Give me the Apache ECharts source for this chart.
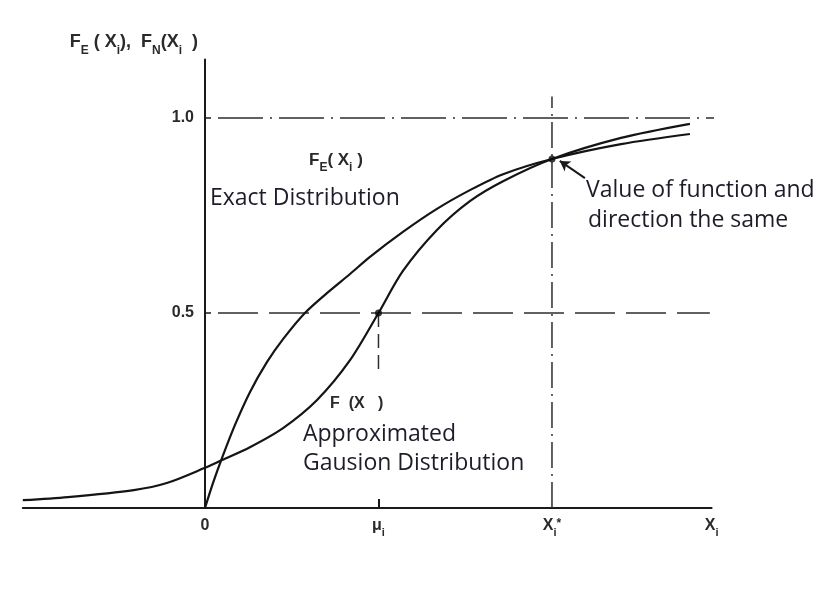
<!DOCTYPE html>
<html>
<head>
<meta charset="utf-8">
<script src="https://cdn.jsdelivr.net/npm/echarts@6/dist/echarts.min.js"></script>
<style>
  html, body { margin: 0; padding: 0; background: #fff; }
  #chart { width: 831px; height: 594px; }
</style>
</head>
<body>
<div id="chart"></div>
<script>
// Exact distribution F_E(X_i): sample points along the curve
const exactX = [0, 0.046, 0.098, 0.173, 0.259, 0.357, 0.45, 0.576, 0.703, 0.836, 0.951, 1.141, 1.337, 1.527, 1.718, 2.0, 2.398, 2.795];
const exactY = [0, 0.064, 0.128, 0.213, 0.297, 0.374, 0.433, 0.5, 0.551, 0.6, 0.644, 0.708, 0.767, 0.815, 0.856, 0.895, 0.933, 0.959];

// Approximated Gaussian distribution F(X)
const gaussX = [-1.05, -0.79, -0.41, -0.22, 0, 0.098, 0.259, 0.45, 0.646, 0.836, 1.0, 1.141, 1.337, 1.527, 1.718, 2.0, 2.398, 2.795];
const gaussY = [0.02, 0.028, 0.046, 0.064, 0.103, 0.123, 0.156, 0.205, 0.277, 0.379, 0.5, 0.608, 0.713, 0.787, 0.838, 0.895, 0.949, 0.985];

// Key abscissae and levels
const muX = 1;          // mean mu_i
const starX = 2;        // design point x_i*
const starY = 0.895;    // common value at x_i*
const levelHalf = 0.5;
const levelOne = 1.0;

// Axis tick values and their labels
const xTickValues = [0, 1, 2, 2.92];
const xTickLabels = ['{b|0}', '{b|μ}{s|i}', '{b|X}{s|i}{p|*}', '{b|X}{s|i}'];
const yTickValues = [0.5, 1.0];

const zip = (xs, ys) => xs.map((x, i) => [x, ys[i]]);

const chart = echarts.init(document.getElementById('chart'));

const labelRich = {
  b: { fontFamily: 'Liberation Sans', fontWeight: 'bold', fontSize: 16, color: '#2a2a2a', padding: [0, 0, 4, 0], verticalAlign: 'bottom' },
  s: { fontFamily: 'Liberation Sans', fontWeight: 'bold', fontSize: 11, color: '#2a2a2a', verticalAlign: 'bottom' },
  p: { fontFamily: 'Liberation Sans', fontWeight: 'bold', fontSize: 12, color: '#2a2a2a', verticalAlign: 'top' }
};

const refLine = (data, dash, width) => ({
  type: 'line',
  data: data,
  symbol: 'none',
  showSymbol: false,
  silent: true,
  clip: false,
  z: 1,
  lineStyle: { color: '#2e2e2e', width: width, type: dash }
});

const curve = (data) => ({
  type: 'line',
  data: data,
  symbol: 'none',
  showSymbol: false,
  smooth: 0.3,
  silent: true,
  clip: false,
  z: 3,
  lineStyle: { color: '#141414', width: 2.2 }
});

const textFont = '"Open Sans", sans-serif';
const txt = (x, y, text, size) => ({
  type: 'text', x: x, y: y, silent: true,
  style: { text: text, fill: '#1d1d2a', fontFamily: textFont, fontSize: size, verticalAlign: 'middle', textVerticalAlign: 'middle' }
});

const subRich = (main, sub) => ({
  b: { fill: '#2a2a2a', fontFamily: 'Liberation Sans', fontWeight: 'bold', fontSize: main, padding: [0, 0, 5, 0], verticalAlign: 'bottom' },
  s: { fill: '#2a2a2a', fontFamily: 'Liberation Sans', fontWeight: 'bold', fontSize: sub, verticalAlign: 'bottom' }
});

chart.setOption({
  animation: false,
  backgroundColor: '#ffffff',
  grid: { left: 22.8, right: 119.4, top: 59.5, bottom: 86, containLabel: false, outerBoundsMode: 'none' },
  xAxis: {
    type: 'value',
    min: -1.05,
    max: 2.92,
    splitLine: { show: false },
    axisLine: { show: true, onZero: true, lineStyle: { color: '#1a1a1a', width: 2 } },
    axisTick: { show: true, inside: true, length: 9, customValues: [muX], lineStyle: { color: '#1a1a1a', width: 2 } },
    axisLabel: {
      show: true,
      margin: 10,
      customValues: xTickValues,
      formatter: (v) => xTickLabels[xTickValues.indexOf(v)] || '',
      rich: labelRich
    }
  },
  yAxis: {
    type: 'value',
    min: 0,
    max: 1.15,
    // shift the axis from the grid edge to x = 0
    offset: -182.2,
    splitLine: { show: false },
    axisLine: { show: true, onZero: false, lineStyle: { color: '#1a1a1a', width: 2 } },
    axisTick: { show: true, inside: true, length: 6, customValues: yTickValues, lineStyle: { color: '#1a1a1a', width: 1.5 } },
    axisLabel: {
      show: true,
      margin: 11,
      customValues: yTickValues,
      formatter: (v) => v.toFixed(1),
      fontFamily: 'Liberation Sans',
      fontWeight: 'bold',
      fontSize: 16,
      color: '#2a2a2a'
    }
  },
  series: [
    // F = 1.0 dash-dot guide
    refLine([[0.075, levelOne], [2.98, levelOne]], [45, 7, 2, 7], 1.5),
    // F = 0.5 dashed guide
    refLine([[0.075, levelHalf], [2.91, levelHalf]], [40, 11], 1.5),
    // short dashed drop below the mean
    refLine([[muX, levelHalf], [muX, 0.34]], [14, 7], 1.5),
    // dash-dot vertical through x_i*
    refLine([[starX, 0], [starX, 1.055]], [26, 6, 2, 6], 1.5),
    curve(zip(exactX, exactY)),
    curve(zip(gaussX, gaussY)),
    {
      type: 'scatter',
      data: [[muX, levelHalf], [starX, starY]],
      symbol: 'circle',
      symbolSize: 7,
      silent: true,
      z: 4,
      itemStyle: { color: '#0a0a0a' }
    },
    {
      // arrow from the note to the tangency point
      type: 'line',
      data: [],
      silent: true,
      markLine: {
        silent: true,
        symbol: ['none', 'arrow'],
        symbolSize: [9, 10],
        label: { show: false },
        lineStyle: { color: '#1a1a1a', width: 2, type: 'solid' },
        data: [[{ coord: [2.19, 0.846] }, { coord: [2.045, 0.89] }]]
      }
    }
  ],
  graphic: [
    {
      type: 'text', x: 198, y: 45, silent: true,
      style: {
        text: '{b|F}{s|E}{b| ( X}{s|i}{b|),  F}{s|N}{b|(X}{s|i}{b|  )}',
        align: 'right', textAlign: 'right', verticalAlign: 'middle', textVerticalAlign: 'middle',
        rich: subRich(18, 12)
      }
    },
    {
      type: 'text', x: 309, y: 163, silent: true,
      style: {
        text: '{b|F}{s|E}{b|( X}{s|i}{b| )}',
        verticalAlign: 'middle', textVerticalAlign: 'middle',
        rich: subRich(17, 12)
      }
    },
    {
      type: 'text', x: 330, y: 404, silent: true,
      style: {
        text: 'F  (X   )', fill: '#2a2a2a', fontFamily: 'Liberation Sans', fontWeight: 'bold', fontSize: 16,
        verticalAlign: 'middle', textVerticalAlign: 'middle'
      }
    },
    txt(210, 198, 'Exact Distribution', 23),
    txt(303, 434, 'Approximated', 23),
    txt(303, 463, 'Gausion Distribution', 23),
    txt(586, 190, 'Value of function and', 23),
    txt(588, 220, 'direction the same', 23)
  ]
});
</script>
</body>
</html>
